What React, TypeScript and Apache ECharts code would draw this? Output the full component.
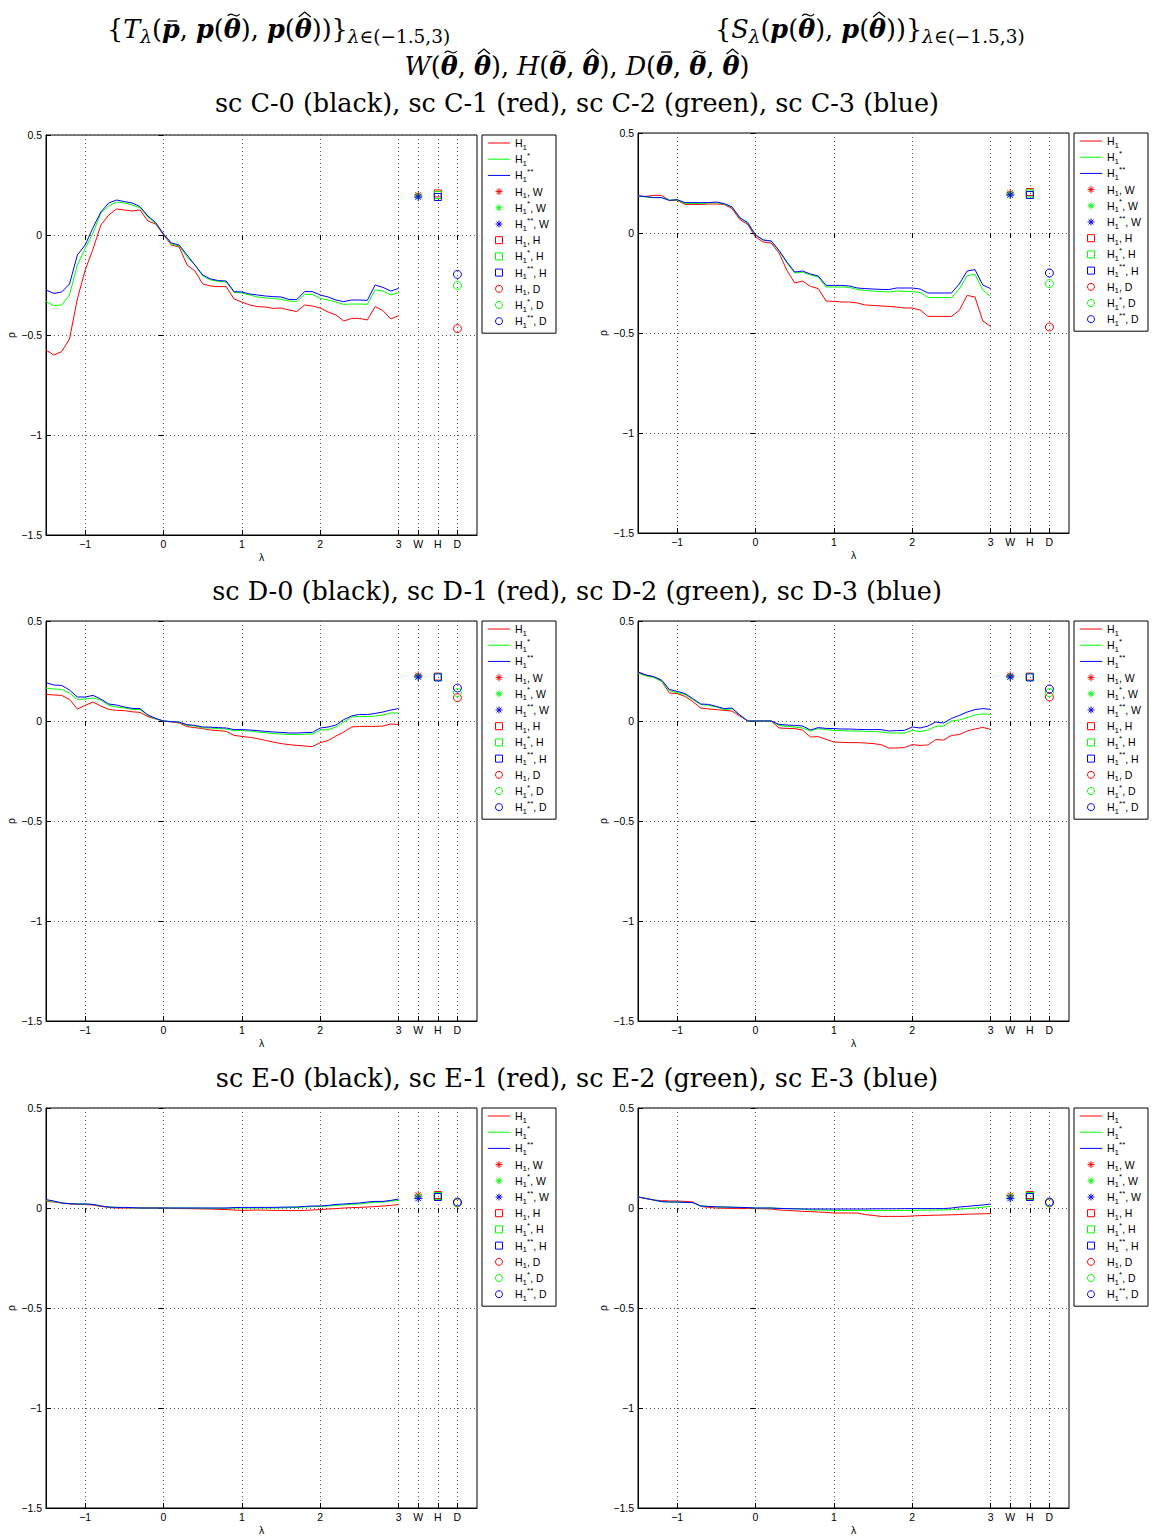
import { useEffect, useRef } from 'react';
import * as echarts from 'echarts';

// ---------- data ----------
const LAMBDA = [-1.5, -1.4, -1.3, -1.2, -1.1, -1.0, -0.9, -0.8, -0.7, -0.6, -0.5, -0.4, -0.3, -0.2, -0.1, 0, 0.1, 0.2, 0.3, 0.4, 0.5, 0.6, 0.7, 0.8, 0.9, 1.0, 1.1, 1.2, 1.3, 1.4, 1.5, 1.6, 1.7, 1.8, 1.9, 2.0, 2.1, 2.2, 2.3, 2.4, 2.5, 2.6, 2.7, 2.8, 2.9, 3.0];

const X_TICKS = [-1, 0, 1, 2, 3, 3.25, 3.5, 3.75];
const X_TICK_LABELS = ['−1', '0', '1', '2', '3', 'W', 'H', 'D'];
const MARKER_X = [3.25, 3.5, 3.75]; // W, H, D columns

// sc C, T_lambda
const P1_RED = [-0.575, -0.6, -0.583, -0.52, -0.32, -0.175, -0.07, 0.05, 0.1, 0.13, 0.125, 0.12, 0.125, 0.07, 0.055, 0.0, -0.05, -0.06, -0.15, -0.18, -0.245, -0.255, -0.258, -0.258, -0.32, -0.335, -0.35, -0.358, -0.36, -0.367, -0.365, -0.375, -0.383, -0.35, -0.355, -0.365, -0.385, -0.4, -0.43, -0.417, -0.417, -0.425, -0.358, -0.378, -0.42, -0.403];
const P1_GREEN = [-0.333, -0.353, -0.35, -0.3, -0.15, -0.067, 0.01, 0.11, 0.145, 0.165, 0.16, 0.15, 0.135, 0.09, 0.058, 0.005, -0.045, -0.055, -0.11, -0.15, -0.205, -0.225, -0.232, -0.235, -0.287, -0.29, -0.3, -0.31, -0.315, -0.317, -0.322, -0.33, -0.333, -0.297, -0.297, -0.317, -0.325, -0.335, -0.347, -0.345, -0.345, -0.347, -0.275, -0.28, -0.3, -0.287];
const P1_BLUE = [-0.275, -0.292, -0.285, -0.245, -0.1, -0.05, 0.037, 0.115, 0.16, 0.175, 0.167, 0.16, 0.142, 0.095, 0.062, 0.005, -0.04, -0.05, -0.1, -0.15, -0.2, -0.22, -0.228, -0.23, -0.283, -0.285, -0.295, -0.3, -0.305, -0.308, -0.31, -0.322, -0.323, -0.283, -0.283, -0.3, -0.31, -0.325, -0.333, -0.325, -0.325, -0.327, -0.25, -0.262, -0.28, -0.267];
const P1_W = [0.2, 0.195, 0.19];
const P1_H = [0.208, 0.2, 0.19];
const P1_D = [-0.468, -0.252, -0.197];

// sc C, S_lambda
const P2_RED = [0.185, 0.183, 0.188, 0.188, 0.163, 0.163, 0.143, 0.143, 0.143, 0.145, 0.145, 0.143, 0.122, 0.067, 0.043, -0.02, -0.045, -0.05, -0.1, -0.187, -0.25, -0.24, -0.267, -0.278, -0.34, -0.342, -0.345, -0.345, -0.35, -0.36, -0.362, -0.365, -0.367, -0.37, -0.375, -0.375, -0.385, -0.417, -0.417, -0.417, -0.417, -0.387, -0.312, -0.32, -0.44, -0.467];
const P2_GREEN = [0.185, 0.18, 0.177, 0.177, 0.165, 0.165, 0.148, 0.148, 0.148, 0.15, 0.152, 0.145, 0.13, 0.075, 0.055, -0.01, -0.035, -0.04, -0.09, -0.15, -0.2, -0.195, -0.21, -0.22, -0.27, -0.27, -0.27, -0.272, -0.283, -0.287, -0.29, -0.293, -0.295, -0.29, -0.292, -0.293, -0.297, -0.322, -0.323, -0.323, -0.323, -0.28, -0.213, -0.207, -0.285, -0.317];
const P2_BLUE = [0.185, 0.182, 0.177, 0.177, 0.163, 0.167, 0.152, 0.152, 0.152, 0.152, 0.155, 0.147, 0.13, 0.077, 0.05, -0.01, -0.035, -0.04, -0.087, -0.145, -0.195, -0.19, -0.205, -0.215, -0.262, -0.262, -0.262, -0.265, -0.275, -0.278, -0.28, -0.282, -0.283, -0.275, -0.275, -0.275, -0.28, -0.3, -0.3, -0.3, -0.3, -0.255, -0.19, -0.183, -0.26, -0.278];
const P2_W = [0.2, 0.195, 0.19];
const P2_H = [0.205, 0.198, 0.19];
const P2_D = [-0.47, -0.253, -0.2];

// sc D, T_lambda
const P3_RED = [0.133, 0.13, 0.128, 0.108, 0.06, 0.078, 0.095, 0.075, 0.058, 0.053, 0.052, 0.046, 0.043, 0.022, 0.01, 0.0, -0.005, -0.01, -0.028, -0.033, -0.038, -0.045, -0.048, -0.052, -0.072, -0.077, -0.082, -0.088, -0.097, -0.105, -0.113, -0.118, -0.122, -0.125, -0.128, -0.108, -0.098, -0.075, -0.055, -0.03, -0.027, -0.027, -0.027, -0.025, -0.015, -0.017];
const P3_GREEN = [0.165, 0.16, 0.158, 0.14, 0.108, 0.11, 0.115, 0.105, 0.078, 0.07, 0.065, 0.058, 0.057, 0.028, 0.01, 0.0, -0.003, -0.006, -0.022, -0.025, -0.035, -0.035, -0.038, -0.04, -0.048, -0.048, -0.05, -0.055, -0.058, -0.063, -0.065, -0.067, -0.068, -0.066, -0.065, -0.045, -0.043, -0.03, -0.005, 0.02, 0.023, 0.022, 0.025, 0.03, 0.04, 0.04];
const P3_BLUE = [0.192, 0.18, 0.178, 0.155, 0.12, 0.12, 0.128, 0.11, 0.085, 0.08, 0.07, 0.063, 0.062, 0.03, 0.013, 0.0, -0.003, -0.006, -0.018, -0.022, -0.03, -0.031, -0.033, -0.035, -0.043, -0.043, -0.045, -0.048, -0.052, -0.055, -0.057, -0.06, -0.06, -0.058, -0.057, -0.035, -0.03, -0.02, 0.007, 0.025, 0.033, 0.032, 0.038, 0.045, 0.055, 0.062];
const P3_W = [0.228, 0.223, 0.22];
const P3_H = [0.222, 0.22, 0.218];
const P3_D = [0.117, 0.142, 0.165];

// sc D, S_lambda
const P4_RED = [0.245, 0.23, 0.22, 0.2, 0.14, 0.137, 0.123, 0.097, 0.065, 0.06, 0.057, 0.053, 0.05, 0.025, 0.0, 0.0, 0.0, 0.0, -0.035, -0.037, -0.038, -0.045, -0.08, -0.078, -0.092, -0.105, -0.107, -0.108, -0.108, -0.11, -0.113, -0.118, -0.135, -0.135, -0.133, -0.118, -0.122, -0.12, -0.093, -0.095, -0.072, -0.068, -0.05, -0.04, -0.032, -0.042];
const P4_GREEN = [0.24, 0.225, 0.218, 0.198, 0.152, 0.142, 0.132, 0.107, 0.083, 0.078, 0.07, 0.057, 0.062, 0.03, 0.0, 0.0, 0.0, 0.0, -0.022, -0.027, -0.03, -0.035, -0.05, -0.038, -0.043, -0.047, -0.048, -0.05, -0.05, -0.052, -0.053, -0.055, -0.06, -0.06, -0.06, -0.047, -0.053, -0.045, -0.027, -0.025, 0.0, 0.005, 0.017, 0.03, 0.036, 0.033];
const P4_BLUE = [0.245, 0.23, 0.222, 0.205, 0.158, 0.148, 0.137, 0.112, 0.085, 0.083, 0.073, 0.062, 0.065, 0.03, 0.0, 0.0, 0.0, 0.0, -0.017, -0.02, -0.022, -0.025, -0.045, -0.033, -0.037, -0.038, -0.04, -0.04, -0.042, -0.043, -0.043, -0.043, -0.05, -0.048, -0.047, -0.03, -0.035, -0.025, -0.005, -0.01, 0.013, 0.028, 0.045, 0.057, 0.062, 0.058];
const P4_W = [0.228, 0.223, 0.22];
const P4_H = [0.222, 0.22, 0.218];
const P4_D = [0.12, 0.142, 0.16];

// sc E, T_lambda
const P5_RED = [0.033, 0.03, 0.025, 0.02, 0.018, 0.017, 0.015, 0.008, 0.003, 0.0, 0.0, 0.0, 0.0, 0.0, 0.0, 0.0, -0.002, -0.003, -0.003, -0.004, -0.005, -0.005, -0.007, -0.008, -0.01, -0.012, -0.011, -0.01, -0.011, -0.012, -0.012, -0.013, -0.013, -0.012, -0.01, -0.008, -0.005, -0.003, 0.0, 0.002, 0.003, 0.005, 0.007, 0.01, 0.013, 0.017];
const P5_GREEN = [0.037, 0.033, 0.025, 0.022, 0.02, 0.02, 0.018, 0.01, 0.005, 0.003, 0.002, 0.001, 0.0, 0.0, 0.0, 0.0, 0.0, 0.0, 0.0, 0.0, -0.001, -0.001, -0.001, -0.001, 0.0, 0.0, 0.0, 0.0, 0.0, 0.0, 0.001, 0.002, 0.003, 0.005, 0.007, 0.008, 0.01, 0.013, 0.016, 0.018, 0.02, 0.025, 0.028, 0.03, 0.035, 0.038];
const P5_BLUE = [0.042, 0.035, 0.025, 0.022, 0.02, 0.02, 0.018, 0.01, 0.005, 0.003, 0.003, 0.002, 0.0, 0.0, 0.0, 0.0, 0.0, 0.0, 0.0, 0.0, 0.0, 0.0, 0.0, 0.0, 0.002, 0.003, 0.003, 0.003, 0.003, 0.003, 0.004, 0.005, 0.005, 0.008, 0.01, 0.01, 0.013, 0.018, 0.02, 0.023, 0.025, 0.03, 0.033, 0.033, 0.038, 0.045];
const P5_W = [0.065, 0.057, 0.048];
const P5_H = [0.065, 0.06, 0.055];
const P5_D = [0.025, 0.027, 0.03];

// sc E, S_lambda
const P6_RED = [0.055, 0.047, 0.04, 0.037, 0.035, 0.035, 0.033, 0.03, 0.008, 0.003, 0.0, -0.001, -0.002, -0.002, -0.003, -0.003, -0.004, -0.005, -0.01, -0.012, -0.014, -0.017, -0.018, -0.02, -0.022, -0.025, -0.025, -0.025, -0.025, -0.033, -0.037, -0.042, -0.042, -0.042, -0.042, -0.04, -0.038, -0.037, -0.036, -0.035, -0.034, -0.033, -0.031, -0.03, -0.029, -0.028];
const P6_GREEN = [0.055, 0.048, 0.04, 0.032, 0.03, 0.03, 0.028, 0.027, 0.01, 0.008, 0.006, 0.005, 0.004, 0.003, 0.002, 0.0, 0.0, 0.0, -0.002, -0.003, -0.004, -0.005, -0.01, -0.01, -0.011, -0.012, -0.012, -0.013, -0.013, -0.013, -0.013, -0.013, -0.013, -0.013, -0.012, -0.012, -0.011, -0.011, -0.01, -0.01, -0.008, -0.006, -0.003, 0.0, 0.004, 0.008];
const P6_BLUE = [0.055, 0.048, 0.04, 0.032, 0.03, 0.03, 0.028, 0.027, 0.01, 0.008, 0.006, 0.005, 0.004, 0.003, 0.002, 0.0, 0.0, 0.0, -0.002, -0.003, -0.004, -0.005, -0.005, -0.005, -0.005, -0.005, -0.005, -0.005, -0.005, -0.005, -0.004, -0.004, -0.004, -0.004, -0.003, -0.003, -0.003, -0.003, -0.003, -0.003, 0.0, 0.005, 0.008, 0.012, 0.015, 0.02];
const P6_W = [0.062, 0.055, 0.048];
const P6_H = [0.065, 0.06, 0.055];
const P6_D = [0.025, 0.027, 0.03];

const LINE_NAMES = ['H1', 'H1*', 'H1**'];
const MARK_KINDS = ['W', 'H', 'D'];
const SCENARIOS = ['C', 'D', 'E'];
const COLORS = ['#ff0000', '#00ff00', '#0000ff'];

const PANELS = [
  { lines: [P1_RED, P1_GREEN, P1_BLUE], marks: [P1_W, P1_H, P1_D] },
  { lines: [P2_RED, P2_GREEN, P2_BLUE], marks: [P2_W, P2_H, P2_D] },
  { lines: [P3_RED, P3_GREEN, P3_BLUE], marks: [P3_W, P3_H, P3_D] },
  { lines: [P4_RED, P4_GREEN, P4_BLUE], marks: [P4_W, P4_H, P4_D] },
  { lines: [P5_RED, P5_GREEN, P5_BLUE], marks: [P5_W, P5_H, P5_D] },
  { lines: [P6_RED, P6_GREEN, P6_BLUE], marks: [P6_W, P6_H, P6_D] },
];

// ---------- layout ----------
const GRID_POS = [
  [46, 135], [638, 133],
  [46, 621], [638, 621],
  [46, 1108], [638, 1108],
];
const GRID_W = 431;
const GRID_H = 400;
const LEGEND_DX = 436;

const STAR = 'path://M5 0L5 10M0 5L10 5M1.5 1.5L8.5 8.5M1.5 8.5L8.5 1.5';
const LINE_ICON = 'path://M0 0H22V1H0Z';
const SQUARE_ICON = 'path://M0 0H7V7H0Z';
const MARK_SYMBOLS = [STAR, 'rect', 'circle'];
const MARK_ICONS = [STAR, SQUARE_ICON, 'circle'];
const MARK_SIZES = [8, 7, 8];

const SANS = 'Liberation Sans';
const SERIF = 'DejaVu Serif';
const TFS = 25.5;
const SFS = 18.5;

function markName(c: number, k: number) {
  return `${LINE_NAMES[c]}, ${MARK_KINDS[k]}`;
}

// ---------- math title layout ----------
type Seg = { t: string; s?: 'it' | 'bi'; sub?: boolean; acc?: 'tilde' | 'hat' | 'bar' };
const T = (t: string, o: Partial<Seg> = {}): Seg => ({ t, ...o });
const TH = ', ';

const TITLE_T: Seg[] = [T('{'), T('T', { s: 'it' }), T('λ', { s: 'it', sub: true }), T('('), T('p', { s: 'bi', acc: 'bar' }), T(TH), T('p', { s: 'bi' }), T('('), T('θ', { s: 'bi', acc: 'tilde' }), T(')' + TH), T('p', { s: 'bi' }), T('('), T('θ', { s: 'bi', acc: 'hat' }), T('))}'), T('λ', { s: 'it', sub: true }), T('∈(−1.5,3)', { sub: true })];
const TITLE_S: Seg[] = [T('{'), T('S', { s: 'it' }), T('λ', { s: 'it', sub: true }), T('('), T('p', { s: 'bi' }), T('('), T('θ', { s: 'bi', acc: 'tilde' }), T(')' + TH), T('p', { s: 'bi' }), T('('), T('θ', { s: 'bi', acc: 'hat' }), T('))}'), T('λ', { s: 'it', sub: true }), T('∈(−1.5,3)', { sub: true })];
const TITLE_WHD: Seg[] = [T('W', { s: 'it' }), T('('), T('θ', { s: 'bi', acc: 'tilde' }), T(TH), T('θ', { s: 'bi', acc: 'hat' }), T('), '), T('H', { s: 'it' }), T('('), T('θ', { s: 'bi', acc: 'tilde' }), T(TH), T('θ', { s: 'bi', acc: 'hat' }), T('), '), T('D', { s: 'it' }), T('('), T('θ', { s: 'bi', acc: 'bar' }), T(TH), T('θ', { s: 'bi', acc: 'tilde' }), T(TH), T('θ', { s: 'bi', acc: 'hat' }), T(')')];

let measureCtx: CanvasRenderingContext2D | null = null;
function fontOf(s: Seg) {
  const size = s.sub ? SFS : TFS;
  return `${s.s ? 'italic ' : ''}${s.s === 'bi' ? 'bold ' : ''}${size}px "${SERIF}"`;
}
function measure(s: Seg) {
  if (!measureCtx) measureCtx = document.createElement('canvas').getContext('2d');
  if (!measureCtx) return s.t.length * TFS * 0.6;
  measureCtx.font = fontOf(s);
  return measureCtx.measureText(s.t).width;
}
function mathLine(segs: Seg[], x: number, yc: number, align: 'left' | 'center') {
  const widths = segs.map(measure);
  const total = widths.reduce((a, b) => a + b, 0);
  let cx = align === 'center' ? x - total / 2 : x;
  const els: any[] = [];
  const stroke = { stroke: '#000', fill: null, lineWidth: 1.3 };
  segs.forEach((s, i) => {
    els.push({
      type: 'text', x: cx, y: s.sub ? yc + 7 : yc, silent: true,
      style: {
        text: s.t, fill: '#000', fontFamily: SERIF, fontSize: s.sub ? SFS : TFS,
        fontStyle: s.s ? 'italic' : 'normal', fontWeight: s.s === 'bi' ? 'bold' : 'normal',
        textAlign: 'left', align: 'left', textVerticalAlign: 'middle', verticalAlign: 'middle',
      },
    });
    if (s.acc) {
      const mx = cx + widths[i] / 2 + 1.5;
      const top = yc - (s.t === 'p' ? 8 : 14);
      if (s.acc === 'bar') {
        els.push({ type: 'line', silent: true, shape: { x1: mx - 5, y1: top, x2: mx + 5, y2: top }, style: stroke });
      } else if (s.acc === 'hat') {
        els.push({ type: 'polyline', silent: true, shape: { points: [[mx - 6, top + 2], [mx, top - 3], [mx + 6, top + 2]] }, style: stroke });
      } else {
        els.push({ type: 'bezierCurve', silent: true, shape: { x1: mx - 6, y1: top + 1, x2: mx + 6, y2: top - 1, cpx1: mx - 2, cpy1: top - 5, cpx2: mx + 2, cpy2: top + 5 }, style: stroke });
      }
    }
    cx += widths[i];
  });
  return els;
}

function buildOption() {
  const grid: any[] = [];
  const xAxis: any[] = [];
  const yAxis: any[] = [];
  const series: any[] = [];
  const legend: any[] = [];

  const legendData: any[] = LINE_NAMES.map((n) => ({ name: n, icon: LINE_ICON, itemStyle: { borderWidth: 0 } }));
  for (let k = 0; k < 3; k++) {
    for (let c = 0; c < 3; c++) {
      legendData.push({
        name: markName(c, k), icon: MARK_ICONS[k],
        itemStyle: { borderWidth: 1, borderColor: COLORS[c], color: k === 0 ? COLORS[c] : 'rgba(0,0,0,0)' },
      });
    }
  }

  const gridLine = { show: true, lineStyle: { color: '#555', type: [1, 3], width: 1 } };
  const tickStyle = { show: true, inside: true, length: 5, lineStyle: { color: '#000', width: 1 } };
  const lblStyle = { color: '#000', fontSize: 10.5, fontFamily: SANS };

  PANELS.forEach((panel, p) => {
    const [gl, gt] = GRID_POS[p];
    grid.push({
      left: gl, top: gt, width: GRID_W, height: GRID_H,
      show: true, borderColor: '#000', borderWidth: 1, backgroundColor: '#fff',
      containLabel: false, outerBoundsMode: 'none',
    });
    xAxis.push({
      gridIndex: p, type: 'value', min: -1.5, max: 4, position: 'bottom',
      axisLine: { show: true, onZero: false, lineStyle: { color: '#000', width: 1 } },
      axisTick: { ...tickStyle, customValues: X_TICKS },
      axisLabel: {
        ...lblStyle, margin: 3, customValues: X_TICKS,
        formatter: (v: number) => {
          const i = X_TICKS.findIndex((t) => Math.abs(t - v) < 1e-6);
          return i >= 0 ? X_TICK_LABELS[i] : '';
        },
      },
      splitLine: gridLine,
      name: 'λ', nameLocation: 'middle', nameGap: 16,
      nameTextStyle: { ...lblStyle },
    });
    xAxis.push({
      gridIndex: p, type: 'value', min: -1.5, max: 4, position: 'top',
      axisLine: { show: false },
      axisTick: { ...tickStyle, customValues: X_TICKS },
      axisLabel: { show: false },
      splitLine: { show: false },
    });
    yAxis.push({
      gridIndex: p, type: 'value', min: -1.5, max: 0.5, interval: 0.5, position: 'left',
      axisLine: { show: true, onZero: false, lineStyle: { color: '#000', width: 1 } },
      axisTick: tickStyle,
      axisLabel: {
        ...lblStyle, margin: 4,
        formatter: (v: number) => (v === 0 ? '0' : String(v).replace('-', '−')),
      },
      splitLine: gridLine,
      name: 'ρ', nameLocation: 'middle', nameGap: 30, nameRotate: 90,
      nameTextStyle: { ...lblStyle },
    });
    yAxis.push({
      gridIndex: p, type: 'value', min: -1.5, max: 0.5, interval: 0.5, position: 'right',
      axisLine: { show: false },
      axisTick: tickStyle,
      axisLabel: { show: false },
      splitLine: { show: false },
    });

    panel.lines.forEach((vals, c) => {
      series.push({
        type: 'line', name: LINE_NAMES[c], xAxisIndex: 2 * p, yAxisIndex: 2 * p,
        data: LAMBDA.map((x, i) => [x, vals[i]]),
        symbol: 'none', showSymbol: false,
        lineStyle: { color: COLORS[c], width: 1 },
        itemStyle: { color: COLORS[c] },
        z: 3,
      });
    });
    panel.marks.forEach((vals, k) => {
      vals.forEach((v, c) => {
        const hollow = k > 0;
        series.push({
          type: 'scatter', name: markName(c, k), xAxisIndex: 2 * p, yAxisIndex: 2 * p,
          data: [[MARKER_X[k], v]],
          symbol: MARK_SYMBOLS[k], symbolSize: MARK_SIZES[k],
          itemStyle: {
            color: hollow ? 'rgba(0,0,0,0)' : COLORS[c],
            borderColor: COLORS[c], borderWidth: 1, opacity: 1,
          },
          z: 4,
        });
      });
    });

    legend.push({
      left: gl + LEGEND_DX, top: gt, orient: 'vertical',
      data: legendData,
      itemWidth: 22, itemHeight: 7, itemGap: 0.2,
      padding: [0, 7, 4, 6],
      backgroundColor: '#fff', borderColor: '#000', borderWidth: 1, borderRadius: 0,
      selectedMode: false,
      formatter: (name: string) => {
        const m = name.match(/^H1(\**)(.*)$/);
        if (!m) return name;
        return 'H{sub|1}' + (m[1] ? '{sup|' + m[1] + '}' : '') + m[2];
      },
      textStyle: {
        color: '#000', fontSize: 10.5, fontFamily: SANS, lineHeight: 16,
        rich: {
          sub: { fontSize: 8, fontFamily: SANS, lineHeight: 9, verticalAlign: 'bottom', color: '#000' },
          sup: { fontSize: 8, fontFamily: SANS, lineHeight: 11, verticalAlign: 'top', color: '#000' },
        },
      },
    });
  });

  const graphic: any[] = [
    ...mathLine(TITLE_T, 107, 29, 'left'),
    ...mathLine(TITLE_S, 715, 29, 'left'),
    ...mathLine(TITLE_WHD, 577, 66, 'center'),
  ];
  const scTitleY = [103, 591, 1078];
  SCENARIOS.forEach((s, i) => {
    graphic.push({
      type: 'text', x: 577, y: scTitleY[i], silent: true,
      style: {
        text: `sc ${s}-0 (black), sc ${s}-1 (red), sc ${s}-2 (green), sc ${s}-3 (blue)`,
        fill: '#000', fontFamily: SERIF, fontSize: TFS,
        textAlign: 'center', align: 'center', textVerticalAlign: 'middle', verticalAlign: 'middle',
      },
    });
  });

  return {
    animation: false,
    backgroundColor: '#fff',
    grid, xAxis, yAxis, series, legend, graphic,
  };
}

export default function App() {
  const ref = useRef<HTMLDivElement>(null);
  useEffect(() => {
    document.body.style.margin = '0';
    const chart = echarts.init(ref.current!, null, { renderer: 'svg' });
    chart.setOption(buildOption() as any);
    return () => chart.dispose();
  }, []);
  return <div ref={ref} style={{ width: 1155, height: 1537 }} />;
}
